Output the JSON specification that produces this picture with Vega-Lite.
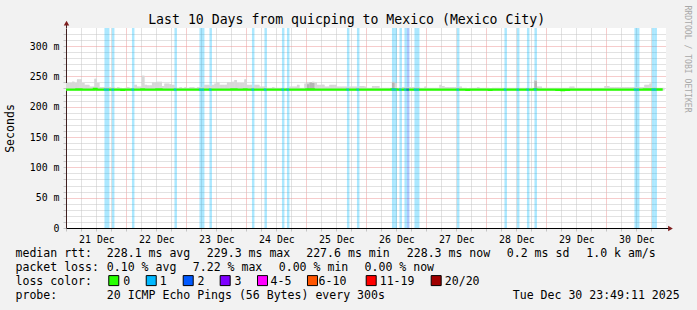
{
"$schema":"https://vega.github.io/schema/vega-lite/v6.json",
"width":600,"height":200,
"autosize":{"type":"none"},
"padding":{"left":66,"top":28,"right":31,"bottom":82},
"background":"#f2f2f2",
"config":{"font":"DejaVu Sans Mono","view":{"stroke":null,"fill":"#ffffff"}},
"datasets":{
"hourly":[
{"t":"2025-12-20T23:00","med":228.1,"hi":239},
{"t":"2025-12-21T00:00","med":228.1,"hi":239},
{"t":"2025-12-21T01:00","med":228.1,"hi":239},
{"t":"2025-12-21T02:00","med":228.1,"hi":241},
{"t":"2025-12-21T03:00","med":228.1,"hi":239},
{"t":"2025-12-21T04:00","med":228.2,"hi":245},
{"t":"2025-12-21T05:00","med":228.2,"hi":245},
{"t":"2025-12-21T06:00","med":228.1,"hi":239},
{"t":"2025-12-21T07:00","med":228.1,"hi":236},
{"t":"2025-12-21T08:00","med":228.1,"hi":236},
{"t":"2025-12-21T09:00","med":228.1,"hi":233},
{"t":"2025-12-21T10:00","med":228.1,"hi":233},
{"t":"2025-12-21T11:00","med":229.3,"hi":246},
{"t":"2025-12-21T12:00","med":228.1,"hi":239},
{"t":"2025-12-21T13:00","med":228.1,"hi":232},
{"t":"2025-12-21T14:00","med":228.1,"hi":232},
{"t":"2025-12-21T15:00","med":228.1,"hi":232,"loss":1},
{"t":"2025-12-21T16:00","med":228.1,"hi":232,"loss":1},
{"t":"2025-12-21T17:00","med":228.1,"hi":232},
{"t":"2025-12-21T18:00","med":228.1,"hi":232,"loss":1},
{"t":"2025-12-21T19:00","med":228.1,"hi":231},
{"t":"2025-12-21T20:00","med":228.1,"hi":232},
{"t":"2025-12-21T21:00","med":228.1,"hi":231},
{"t":"2025-12-21T22:00","med":228.0,"hi":230},
{"t":"2025-12-21T23:00","med":228.1,"hi":231},
{"t":"2025-12-22T00:00","med":228.1,"hi":232},
{"t":"2025-12-22T01:00","med":228.1,"hi":231},
{"t":"2025-12-22T02:00","med":228.1,"hi":231,"loss":1},
{"t":"2025-12-22T03:00","med":228.1,"hi":236},
{"t":"2025-12-22T04:00","med":228.1,"hi":233},
{"t":"2025-12-22T05:00","med":228.1,"hi":233},
{"t":"2025-12-22T06:00","med":228.2,"hi":251},
{"t":"2025-12-22T07:00","med":228.1,"hi":236},
{"t":"2025-12-22T08:00","med":228.1,"hi":235},
{"t":"2025-12-22T09:00","med":228.1,"hi":235},
{"t":"2025-12-22T10:00","med":228.1,"hi":240},
{"t":"2025-12-22T11:00","med":228.1,"hi":240},
{"t":"2025-12-22T12:00","med":228.2,"hi":241},
{"t":"2025-12-22T13:00","med":228.2,"hi":241},
{"t":"2025-12-22T14:00","med":228.1,"hi":234},
{"t":"2025-12-22T15:00","med":228.1,"hi":238},
{"t":"2025-12-22T16:00","med":228.1,"hi":238},
{"t":"2025-12-22T17:00","med":228.1,"hi":237},
{"t":"2025-12-22T18:00","med":228.1,"hi":236},
{"t":"2025-12-22T19:00","med":228.1,"hi":232,"loss":1},
{"t":"2025-12-22T20:00","med":228.1,"hi":231},
{"t":"2025-12-22T21:00","med":228.1,"hi":232},
{"t":"2025-12-22T22:00","med":228.1,"hi":231},
{"t":"2025-12-22T23:00","med":228.1,"hi":232},
{"t":"2025-12-23T00:00","med":228.1,"hi":231},
{"t":"2025-12-23T01:00","med":228.1,"hi":232},
{"t":"2025-12-23T02:00","med":228.1,"hi":232},
{"t":"2025-12-23T03:00","med":228.1,"hi":231},
{"t":"2025-12-23T04:00","med":228.1,"hi":232},
{"t":"2025-12-23T05:00","med":228.1,"hi":232,"loss":1},
{"t":"2025-12-23T06:00","med":228.1,"hi":232,"loss":1},
{"t":"2025-12-23T07:00","med":228.1,"hi":236},
{"t":"2025-12-23T08:00","med":228.1,"hi":236},
{"t":"2025-12-23T09:00","med":228.1,"hi":234,"loss":1},
{"t":"2025-12-23T10:00","med":228.1,"hi":236},
{"t":"2025-12-23T11:00","med":228.1,"hi":238},
{"t":"2025-12-23T12:00","med":228.1,"hi":240},
{"t":"2025-12-23T13:00","med":228.1,"hi":236},
{"t":"2025-12-23T14:00","med":228.1,"hi":236},
{"t":"2025-12-23T15:00","med":228.1,"hi":236},
{"t":"2025-12-23T16:00","med":228.1,"hi":240},
{"t":"2025-12-23T17:00","med":228.1,"hi":240},
{"t":"2025-12-23T18:00","med":228.2,"hi":241},
{"t":"2025-12-23T19:00","med":228.2,"hi":244},
{"t":"2025-12-23T20:00","med":228.1,"hi":239},
{"t":"2025-12-23T21:00","med":228.1,"hi":239},
{"t":"2025-12-23T22:00","med":228.1,"hi":239},
{"t":"2025-12-23T23:00","med":228.2,"hi":245},
{"t":"2025-12-24T00:00","med":228.1,"hi":236},
{"t":"2025-12-24T01:00","med":228.1,"hi":236},
{"t":"2025-12-24T02:00","med":228.1,"hi":232,"loss":1},
{"t":"2025-12-24T03:00","med":228.1,"hi":236},
{"t":"2025-12-24T04:00","med":228.1,"hi":236},
{"t":"2025-12-24T05:00","med":228.1,"hi":233},
{"t":"2025-12-24T06:00","med":228.1,"hi":233},
{"t":"2025-12-24T07:00","med":228.1,"hi":233,"loss":1},
{"t":"2025-12-24T08:00","med":228.1,"hi":231},
{"t":"2025-12-24T09:00","med":228.1,"hi":231},
{"t":"2025-12-24T10:00","med":228.1,"hi":232},
{"t":"2025-12-24T11:00","med":228.1,"hi":231},
{"t":"2025-12-24T12:00","med":228.1,"hi":231},
{"t":"2025-12-24T13:00","med":228.1,"hi":231},
{"t":"2025-12-24T14:00","med":228.1,"hi":231,"loss":1},
{"t":"2025-12-24T15:00","med":228.1,"hi":231},
{"t":"2025-12-24T16:00","med":228.1,"hi":231,"loss":1},
{"t":"2025-12-24T17:00","med":228.1,"hi":233},
{"t":"2025-12-24T18:00","med":228.1,"hi":233},
{"t":"2025-12-24T19:00","med":228.1,"hi":233},
{"t":"2025-12-24T20:00","med":228.1,"hi":236},
{"t":"2025-12-24T21:00","med":228.1,"hi":231},
{"t":"2025-12-24T22:00","med":228.1,"hi":231},
{"t":"2025-12-24T23:00","med":228.1,"hi":238},
{"t":"2025-12-25T00:00","med":228.2,"hi":240,"dk":237},
{"t":"2025-12-25T01:00","med":228.2,"hi":240,"dk":240},
{"t":"2025-12-25T02:00","med":228.2,"hi":241,"dk":239},
{"t":"2025-12-25T03:00","med":228.1,"hi":240},
{"t":"2025-12-25T04:00","med":228.1,"hi":236},
{"t":"2025-12-25T05:00","med":228.1,"hi":236},
{"t":"2025-12-25T06:00","med":228.1,"hi":236},
{"t":"2025-12-25T07:00","med":228.1,"hi":233},
{"t":"2025-12-25T08:00","med":228.1,"hi":233},
{"t":"2025-12-25T09:00","med":228.1,"hi":236},
{"t":"2025-12-25T10:00","med":228.1,"hi":236},
{"t":"2025-12-25T11:00","med":228.1,"hi":236},
{"t":"2025-12-25T12:00","med":228.1,"hi":233},
{"t":"2025-12-25T13:00","med":228.1,"hi":233},
{"t":"2025-12-25T14:00","med":228.1,"hi":233},
{"t":"2025-12-25T15:00","med":228.1,"hi":233},
{"t":"2025-12-25T16:00","med":228.1,"hi":232,"loss":1},
{"t":"2025-12-25T17:00","med":228.1,"hi":233},
{"t":"2025-12-25T18:00","med":228.1,"hi":233},
{"t":"2025-12-25T19:00","med":228.1,"hi":233},
{"t":"2025-12-25T20:00","med":228.1,"hi":232,"loss":1},
{"t":"2025-12-25T21:00","med":228.1,"hi":234},
{"t":"2025-12-25T22:00","med":228.1,"hi":234},
{"t":"2025-12-25T23:00","med":228.1,"hi":233},
{"t":"2025-12-26T00:00","med":228.1,"hi":231},
{"t":"2025-12-26T01:00","med":228.1,"hi":231},
{"t":"2025-12-26T02:00","med":228.1,"hi":234},
{"t":"2025-12-26T03:00","med":228.1,"hi":234},
{"t":"2025-12-26T04:00","med":228.1,"hi":234},
{"t":"2025-12-26T05:00","med":228.1,"hi":231},
{"t":"2025-12-26T06:00","med":228.1,"hi":231},
{"t":"2025-12-26T07:00","med":228.1,"hi":231},
{"t":"2025-12-26T08:00","med":228.1,"hi":231},
{"t":"2025-12-26T09:00","med":228.1,"hi":231},
{"t":"2025-12-26T10:00","med":228.4,"hi":241,"dk":240,"loss":1},
{"t":"2025-12-26T11:00","med":228.2,"hi":239,"loss":1},
{"t":"2025-12-26T12:00","med":228.1,"hi":231},
{"t":"2025-12-26T13:00","med":228.1,"hi":231,"loss":1},
{"t":"2025-12-26T14:00","med":228.1,"hi":232},
{"t":"2025-12-26T15:00","med":228.1,"hi":232,"loss":1},
{"t":"2025-12-26T16:00","med":228.1,"hi":232,"loss":2},
{"t":"2025-12-26T17:00","med":228.1,"hi":232},
{"t":"2025-12-26T18:00","med":228.1,"hi":232},
{"t":"2025-12-26T19:00","med":228.1,"hi":232,"loss":1},
{"t":"2025-12-26T20:00","med":228.1,"hi":232,"loss":1},
{"t":"2025-12-26T21:00","med":228.1,"hi":231},
{"t":"2025-12-26T22:00","med":228.1,"hi":231},
{"t":"2025-12-26T23:00","med":228.1,"hi":233},
{"t":"2025-12-27T00:00","med":228.1,"hi":231},
{"t":"2025-12-27T01:00","med":228.1,"hi":231},
{"t":"2025-12-27T02:00","med":228.1,"hi":231},
{"t":"2025-12-27T03:00","med":228.1,"hi":231},
{"t":"2025-12-27T04:00","med":228.1,"hi":231},
{"t":"2025-12-27T05:00","med":228.1,"hi":236},
{"t":"2025-12-27T06:00","med":228.1,"hi":234},
{"t":"2025-12-27T07:00","med":228.1,"hi":232},
{"t":"2025-12-27T08:00","med":228.1,"hi":232},
{"t":"2025-12-27T09:00","med":228.1,"hi":232},
{"t":"2025-12-27T10:00","med":228.1,"hi":232},
{"t":"2025-12-27T11:00","med":228.1,"hi":232},
{"t":"2025-12-27T12:00","med":228.1,"hi":232,"loss":1},
{"t":"2025-12-27T13:00","med":228.1,"hi":233},
{"t":"2025-12-27T14:00","med":228.1,"hi":231},
{"t":"2025-12-27T15:00","med":228.1,"hi":231},
{"t":"2025-12-27T16:00","med":228.0,"hi":230},
{"t":"2025-12-27T17:00","med":228.1,"hi":231},
{"t":"2025-12-27T18:00","med":228.1,"hi":231},
{"t":"2025-12-27T19:00","med":228.1,"hi":231},
{"t":"2025-12-27T20:00","med":228.1,"hi":232},
{"t":"2025-12-27T21:00","med":228.1,"hi":231},
{"t":"2025-12-27T22:00","med":228.1,"hi":231},
{"t":"2025-12-27T23:00","med":228.1,"hi":231},
{"t":"2025-12-28T00:00","med":228.1,"hi":231},
{"t":"2025-12-28T01:00","med":228.0,"hi":230},
{"t":"2025-12-28T02:00","med":228.1,"hi":231},
{"t":"2025-12-28T03:00","med":228.1,"hi":231},
{"t":"2025-12-28T04:00","med":228.1,"hi":231},
{"t":"2025-12-28T05:00","med":228.1,"hi":231},
{"t":"2025-12-28T06:00","med":228.1,"hi":231},
{"t":"2025-12-28T07:00","med":228.1,"hi":231,"loss":1},
{"t":"2025-12-28T08:00","med":228.1,"hi":231},
{"t":"2025-12-28T09:00","med":228.1,"hi":231},
{"t":"2025-12-28T10:00","med":228.1,"hi":231},
{"t":"2025-12-28T11:00","med":228.1,"hi":231},
{"t":"2025-12-28T12:00","med":228.1,"hi":231,"loss":1},
{"t":"2025-12-28T13:00","med":228.1,"hi":231},
{"t":"2025-12-28T14:00","med":228.1,"hi":231},
{"t":"2025-12-28T15:00","med":228.1,"hi":231},
{"t":"2025-12-28T16:00","med":228.1,"hi":231,"loss":1},
{"t":"2025-12-28T17:00","med":228.1,"hi":231},
{"t":"2025-12-28T18:00","med":228.1,"hi":231},
{"t":"2025-12-28T19:00","med":228.3,"hi":244,"dk":242,"loss":1},
{"t":"2025-12-28T20:00","med":228.1,"hi":233},
{"t":"2025-12-28T21:00","med":228.1,"hi":233},
{"t":"2025-12-28T22:00","med":228.1,"hi":231},
{"t":"2025-12-28T23:00","med":228.1,"hi":231},
{"t":"2025-12-29T00:00","med":228.1,"hi":231},
{"t":"2025-12-29T01:00","med":228.1,"hi":231},
{"t":"2025-12-29T02:00","med":228.1,"hi":231},
{"t":"2025-12-29T03:00","med":228.1,"hi":231},
{"t":"2025-12-29T04:00","med":228.0,"hi":231},
{"t":"2025-12-29T05:00","med":227.8,"hi":231},
{"t":"2025-12-29T06:00","med":227.6,"hi":231},
{"t":"2025-12-29T07:00","med":227.8,"hi":231},
{"t":"2025-12-29T08:00","med":228.0,"hi":231},
{"t":"2025-12-29T09:00","med":228.1,"hi":233},
{"t":"2025-12-29T10:00","med":228.1,"hi":233},
{"t":"2025-12-29T11:00","med":228.1,"hi":231},
{"t":"2025-12-29T12:00","med":228.1,"hi":231},
{"t":"2025-12-29T13:00","med":228.1,"hi":231},
{"t":"2025-12-29T14:00","med":228.1,"hi":231},
{"t":"2025-12-29T15:00","med":228.1,"hi":231},
{"t":"2025-12-29T16:00","med":228.1,"hi":231},
{"t":"2025-12-29T17:00","med":228.1,"hi":231},
{"t":"2025-12-29T18:00","med":228.1,"hi":231},
{"t":"2025-12-29T19:00","med":228.1,"hi":231},
{"t":"2025-12-29T20:00","med":228.1,"hi":231},
{"t":"2025-12-29T21:00","med":228.1,"hi":231},
{"t":"2025-12-29T22:00","med":228.1,"hi":231},
{"t":"2025-12-29T23:00","med":228.1,"hi":234},
{"t":"2025-12-30T00:00","med":228.1,"hi":234},
{"t":"2025-12-30T01:00","med":228.1,"hi":232},
{"t":"2025-12-30T02:00","med":228.1,"hi":232},
{"t":"2025-12-30T03:00","med":228.1,"hi":232},
{"t":"2025-12-30T04:00","med":228.1,"hi":232},
{"t":"2025-12-30T05:00","med":228.1,"hi":232},
{"t":"2025-12-30T06:00","med":228.1,"hi":232},
{"t":"2025-12-30T07:00","med":228.1,"hi":232},
{"t":"2025-12-30T08:00","med":228.1,"hi":232},
{"t":"2025-12-30T09:00","med":228.1,"hi":232},
{"t":"2025-12-30T10:00","med":228.1,"hi":232},
{"t":"2025-12-30T11:00","med":228.1,"hi":232,"loss":1},
{"t":"2025-12-30T12:00","med":228.1,"hi":232,"loss":1},
{"t":"2025-12-30T13:00","med":228.1,"hi":232},
{"t":"2025-12-30T14:00","med":228.1,"hi":232},
{"t":"2025-12-30T15:00","med":228.2,"hi":236},
{"t":"2025-12-30T16:00","med":228.2,"hi":236},
{"t":"2025-12-30T17:00","med":228.2,"hi":238},
{"t":"2025-12-30T18:00","med":228.2,"hi":232,"loss":1},
{"t":"2025-12-30T19:00","med":228.2,"hi":232,"loss":1},
{"t":"2025-12-30T20:00","med":228.3,"hi":231},
{"t":"2025-12-30T21:00","med":228.3,"hi":231},
{"t":"2025-12-30T22:00","med":228.3,"hi":231}
],
"foot":[
{"col":0,"row":0,"text":"median rtt:"},
{"col":13.14,"row":0,"text":"228.1 ms avg"},
{"col":27.53,"row":0,"text":"229.3 ms max"},
{"col":41.83,"row":0,"text":"227.6 ms min"},
{"col":56.3,"row":0,"text":"228.3 ms now"},
{"col":70.69,"row":0,"text":"0.2 ms sd"},
{"col":82.12,"row":0,"text":"1.0 k am/s"},
{"col":0,"row":1,"text":"packet loss:"},
{"col":13.14,"row":1,"text":"0.10 % avg"},
{"col":25.51,"row":1,"text":"7.22 % max"},
{"col":37.88,"row":1,"text":"0.00 % min"},
{"col":50.22,"row":1,"text":"0.00 % now"},
{"col":0,"row":2,"text":"loss color:"},
{"col":15.5,"row":2,"text":"0"},
{"col":20.76,"row":2,"text":"1"},
{"col":26.19,"row":2,"text":"2"},
{"col":31.51,"row":2,"text":"3"},
{"col":36.69,"row":2,"text":"4-5"},
{"col":43.6,"row":2,"text":"6-10"},
{"col":52.4,"row":2,"text":"11-19"},
{"col":61.77,"row":2,"text":"20/20"},
{"col":0,"row":3,"text":"probe:"},
{"col":13.14,"row":3,"text":"20 ICMP Echo Pings (56 Bytes) every 300s"},
{"col":71.55,"row":3,"text":"Tue Dec 30 23:49:11 2025"}
],
"boxes":[
{"col":14.14,"row":2,"lab":"0"},
{"col":19.53,"row":2,"lab":"1"},
{"col":24.85,"row":2,"lab":"2"},
{"col":30.17,"row":2,"lab":"3"},
{"col":35.54,"row":2,"lab":"4-5"},
{"col":42.73,"row":2,"lab":"6-10"},
{"col":51.18,"row":2,"lab":"11-19"},
{"col":60.53,"row":2,"lab":"20/20"}
]
},
"layer":[
{
"layer":[
{
"data":{"name":"hourly"},
"mark":{"type":"bar","color":"#d8d8d8","binSpacing":0,"clip":true},
"encoding":{
"x":{"field":"t","type":"temporal","timeUnit":"yearmonthdatehours","title":null,
"scale":{"domain":[{"year":2025,"month":12,"date":20,"hours":23,"minutes":49,"seconds":11},{"year":2025,"month":12,"date":30,"hours":23,"minutes":49,"seconds":11}],"nice":false},
"axis":{"tickCount":40,"grid":true,
"gridColor":{"condition":{"test":"hours(datum.value) === 0","value":"#ec9898"},"value":"#c4c4c4"},
"gridDash":[1,1],
"tickColor":"#c4c4c4",
"tickSize":3,"domainColor":"#000000",
"labelExpr":"hours(datum.value) === 12 ? timeFormat(datum.value, '%d %b') : ''",
"labelFont":"DejaVu Sans Mono","labelFontSize":9.9,"labelColor":"#000000","labelPadding":3,
"labelOverlap":false,"labelFlush":false,"labelBound":false,"title":null}},
"y":{"field":"hi","type":"quantitative","title":"Seconds","scale":{"domain":[0,329.7],"nice":false,"zero":false},
"axis":{"values":[0,10,20,30,40,50,60,70,80,90,100,110,120,130,140,150,160,170,180,190,200,210,220,230,240,250,260,270,280,290,300,310,320],
"tickCount":100,
"grid":true,
"gridColor":{"condition":{"test":"datum.value % 50 === 0","value":"#ec9898"},"value":"#c4c4c4"},
"gridDash":[1,1],
"tickColor":"#c4c4c4",
"tickSize":3,"domainColor":"#402020",
"labelExpr":"datum.value % 50 === 0 ? (datum.value === 0 ? '0\u00a0\u00a0' : datum.value + ' m') : ''",
"labelOverlap":false,"labelBound":false,
"labelFont":"DejaVu Sans Mono","labelFontSize":9.9,"labelColor":"#000000","labelPadding":4,
"title":"Seconds","titleFont":"DejaVu Sans Mono","titleFontSize":11.55,"titleFontWeight":"normal","titleColor":"#000000","titleX":-56,"titleBaseline":"middle"}},
"y2":{"datum":227}
}
},
{
"data":{"name":"hourly"},
"transform":[{"filter":"datum.loss > 0"}],
"mark":{"type":"bar","opacity":0.33,"binSpacing":0,"clip":true},
"encoding":{
"x":{"field":"t","type":"temporal","timeUnit":"yearmonthdatehours","title":null},
"y":{"datum":0,"type":"quantitative","title":"Seconds"},
"y2":{"datum":329.7},
"color":{"field":"loss","type":"ordinal","scale":{"domain":[1,2],"range":["#00b8ff","#0059ff"]},"legend":null}
}
},
{
"data":{"name":"hourly"},
"mark":{"type":"bar","color":"#d8d8d8","binSpacing":0,"clip":true},
"encoding":{
"x":{"field":"t","type":"temporal","timeUnit":"yearmonthdatehours","title":null},
"y":{"field":"hi","type":"quantitative","title":"Seconds"},
"y2":{"datum":227}
}
},
{
"data":{"name":"hourly"},
"transform":[{"filter":"isValid(datum.dk)"}],
"mark":{"type":"bar","color":"#b4b4b4","binSpacing":0,"clip":true},
"encoding":{
"x":{"field":"t","type":"temporal","timeUnit":"yearmonthdatehours","title":null},
"y":{"field":"dk","type":"quantitative","title":"Seconds"},
"y2":{"datum":227}
}
},
{
"data":{"name":"hourly"},
"mark":{"type":"line","interpolate":"step","strokeWidth":2.4,"color":"#26ff00","clip":true},
"encoding":{
"x":{"field":"t","type":"temporal","timeUnit":"yearmonthdatehours","bandPosition":0.5,"title":null},
"y":{"field":"med","type":"quantitative","title":"Seconds"}
}
},
{
"data":{"name":"hourly"},
"transform":[{"filter":"datum.loss > 0"}],
"mark":{"type":"tick","orient":"horizontal","size":2.6,"thickness":2.4,"clip":true},
"encoding":{
"x":{"field":"t","type":"temporal","timeUnit":"yearmonthdatehours","bandPosition":0.5,"title":null},
"y":{"field":"med","type":"quantitative","title":"Seconds"},
"color":{"field":"loss","type":"ordinal","legend":null}
}
}
]
},
{
"layer":[
{
"data":{"name":"foot"},
"mark":{"type":"text","align":"left","baseline":"middle","font":"DejaVu Sans Mono","fontSize":11.55,"color":"#000000"},
"encoding":{
"x":{"field":"col","type":"quantitative","scale":{"domain":[0,100],"range":[-50.5,644.5],"nice":false,"zero":false},"axis":null},
"y":{"field":"row","type":"quantitative","scale":{"domain":[0,3],"range":[226.3,268],"nice":false,"zero":false},"axis":null},
"text":{"field":"text"}
}
},
{
"data":{"name":"boxes"},
"mark":{"type":"point","shape":"square","filled":true,"size":100,"stroke":"#000000","strokeWidth":1,"opacity":1,"yOffset":-1.5},
"encoding":{
"x":{"field":"col","type":"quantitative","axis":null},
"y":{"field":"row","type":"quantitative","axis":null},
"fill":{"field":"lab","type":"nominal","scale":{"domain":["0","1","2","3","4-5","6-10","11-19","20/20"],"range":["#26ff00","#00b8ff","#0059ff","#7e00ff","#ff00ff","#ff5500","#ff0000","#a00000"]},"legend":null}
}
},
{
"data":{"values":[{"col":47.65,"row":-16.57,"text":"Last 10 Days from quicping to Mexico (Mexico City)"}]},
"mark":{"type":"text","align":"center","baseline":"alphabetic","font":"DejaVu Sans Mono","fontSize":13.2,"color":"#000000"},
"encoding":{
"x":{"field":"col","type":"quantitative","axis":null},
"y":{"field":"row","type":"quantitative","axis":null},
"text":{"field":"text"}
}
},
{
"data":{"values":[{"col":96.66,"row":-14.05,"text":"RRDTOOL / TOBI OETIKER"}]},
"mark":{"type":"text","align":"center","baseline":"middle","angle":90,"font":"DejaVu Sans Mono","fontSize":8.1,"color":"#a8a8a8"},
"encoding":{
"x":{"field":"col","type":"quantitative","axis":null},
"y":{"field":"row","type":"quantitative","axis":null},
"text":{"field":"text"}
}
},
{
"data":{"values":[{"col":7.34,"row":-16.28,"row2":-16.64}]},
"mark":{"type":"rule","color":"#402020","strokeWidth":1},
"encoding":{
"x":{"field":"col","type":"quantitative","axis":null},
"y":{"field":"row","type":"quantitative","axis":null},
"y2":{"field":"row2"}
}
},
{
"data":{"values":[{"col":93.6,"col2":94.1,"row":-1.856}]},
"mark":{"type":"rule","color":"#000000","strokeWidth":1},
"encoding":{
"x":{"field":"col","type":"quantitative","axis":null},
"x2":{"field":"col2"},
"y":{"field":"row","type":"quantitative","axis":null}
}
},
{
"data":{"values":[{"col":7.34,"row":-16.64,"dir":"up"},{"col":94.24,"row":-1.856,"dir":"right"}]},
"mark":{"type":"point","filled":true,"size":30,"color":"#7f1f1f","opacity":1},
"encoding":{
"x":{"field":"col","type":"quantitative","axis":null},
"y":{"field":"row","type":"quantitative","axis":null},
"shape":{"field":"dir","type":"nominal","scale":{"domain":["up","right"],"range":["triangle-up","triangle-right"]},"legend":null}
}
}
]
}
],
"resolve":{"scale":{"x":"independent","y":"independent"}}
}
